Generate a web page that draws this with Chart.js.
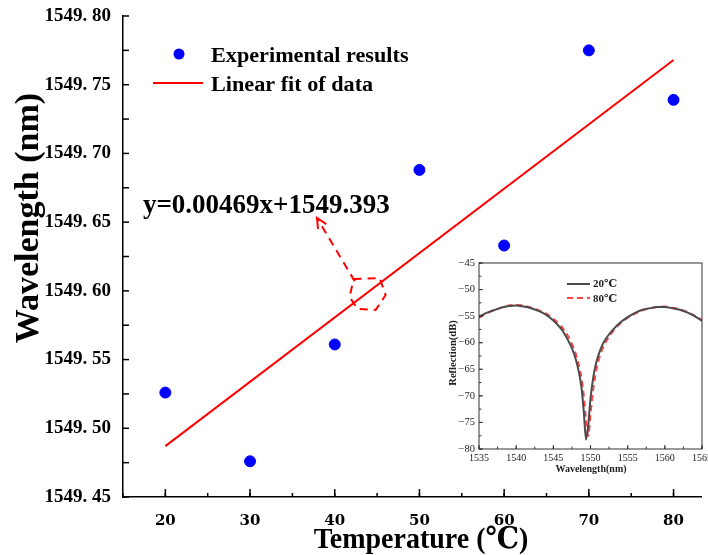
<!DOCTYPE html>
<html lang="en">
<head>
  <meta charset="UTF-8">
  <title>Wavelength vs Temperature</title>
  <script src="https://cdn.jsdelivr.net/npm/chart.js@4"></script>
  <style>
    html, body { margin: 0; padding: 0; background: #fff; }
    #wrap { position: relative; width: 708px; height: 555px; overflow: hidden; }
    #mainChart { position: absolute; left: 0; top: 0; }
    #insetChart { position: absolute; left: 430px; top: 250px; }
  </style>
</head>
<body>
  <div id="wrap">
    <canvas id="mainChart" width="708" height="555"></canvas>
    <canvas id="insetChart" width="278" height="230"></canvas>
  </div>

  <script>
    // ---- main plot: peak wavelength vs temperature
    const temperatures = [20, 30, 40, 50, 60, 70, 80];
    const peakWavelengths = [1549.526, 1549.476, 1549.561, 1549.688, 1549.633, 1549.775, 1549.739];
    const fitTemperatures = [20, 80];
    const fitWavelengths = [1549.487, 1549.768];
    const xTickValues = [20, 30, 40, 50, 60, 70, 80];
    const yTickValues = [1549.45, 1549.50, 1549.55, 1549.60, 1549.65, 1549.70, 1549.75, 1549.80];

    // ---- inset: reflection spectra
    const spectrumWavelengths = [1535, 1536, 1537, 1538, 1539, 1540, 1541, 1542, 1543, 1544, 1545, 1546, 1546.5, 1547, 1547.5, 1548, 1548.4, 1548.8, 1549.1, 1549.4, 1549.7, 1550, 1550.4, 1550.8, 1551.2, 1551.6, 1552, 1553, 1554, 1555, 1556, 1557, 1558, 1559, 1560, 1561, 1562, 1563, 1564, 1565];
    const reflection20 = [-55.1, -54.4, -53.9, -53.4, -53.1, -53.0, -53.2, -53.5, -54.0, -54.7, -55.8, -57.3, -58.3, -59.6, -61.0, -63.0, -65.3, -68.6, -73.0, -78.2, -75.5, -70.5, -66.3, -63.6, -61.8, -60.4, -59.4, -57.6, -56.2, -55.2, -54.4, -53.8, -53.5, -53.3, -53.3, -53.5, -53.8, -54.3, -55.0, -55.9];
    const reflection80 = [-55.3, -54.5, -53.9, -53.4, -53.0, -52.9, -53.0, -53.4, -53.9, -54.5, -55.5, -56.8, -57.7, -58.8, -60.2, -62.0, -64.0, -66.8, -70.0, -74.5, -77.5, -73.5, -68.5, -65.0, -62.8, -61.2, -60.0, -57.9, -56.4, -55.3, -54.5, -53.9, -53.5, -53.3, -53.2, -53.4, -53.7, -54.2, -54.9, -55.7];
    const insetXTickValues = [1535, 1540, 1545, 1550, 1555, 1560, 1565];
    const insetYTickValues = [-80, -75, -70, -65, -60, -55, -50, -45];

    const SERIF = '"Liberation Serif", "Times New Roman", "DejaVu Serif", serif';

    function pairs(xs, ys) {
      return xs.map((x, i) => ({ x: x, y: ys[i] }));
    }

    // draws inward tick marks from min to max every step
    function inwardTicks(ctx, scale, area, step, len, horizontal) {
      const start = Math.ceil(scale.min / step - 1e-6) * step;
      for (let v = start; v <= scale.max + 1e-9; v += step) {
        const p = scale.getPixelForValue(v);
        ctx.beginPath();
        if (horizontal) {
          ctx.moveTo(p, area.bottom);
          ctx.lineTo(p, area.bottom - len);
        } else {
          ctx.moveTo(area.left, p);
          ctx.lineTo(area.left + len, p);
        }
        ctx.stroke();
      }
    }

    function noPadding(s) {
      s.paddingTop = 0;
      s.paddingBottom = 0;
      s.paddingLeft = 0;
      s.paddingRight = 0;
    }

    const mainDecor = {
      id: 'mainDecor',
      afterDraw(chart) {
        const ctx = chart.ctx;
        const area = chart.chartArea;
        const xs = chart.scales.x;
        const ys = chart.scales.y;
        ctx.save();

        // tick marks (inside the axes)
        ctx.strokeStyle = '#000';
        ctx.lineWidth = 1.5;
        inwardTicks(ctx, xs, area, 10, 8, true);
        inwardTicks(ctx, xs, area, 5, 4, true);
        inwardTicks(ctx, ys, area, 0.025, 6, false);

        // legend
        const lx = area.left, ly = area.top;
        ctx.fillStyle = '#0000ff';
        ctx.beginPath();
        ctx.arc(lx + 56, ly + 38, 5.5, 0, Math.PI * 2);
        ctx.fill();
        ctx.strokeStyle = '#ff0000';
        ctx.lineWidth = 2;
        ctx.beginPath();
        ctx.moveTo(lx + 30, ly + 67);
        ctx.lineTo(lx + 80, ly + 67);
        ctx.stroke();
        ctx.fillStyle = '#000';
        ctx.font = 'bold 20px ' + SERIF;
        ctx.textBaseline = 'alphabetic';
        ctx.textAlign = 'left';
        ctx.save();
        ctx.translate(lx + 88, ly + 46);
        ctx.scale(1.11, 1);
        ctx.fillText('Experimental results', 0, 0);
        ctx.restore();
        ctx.save();
        ctx.translate(lx + 88, ly + 75);
        ctx.scale(1.11, 1);
        ctx.fillText('Linear fit of data', 0, 0);
        ctx.restore();

        // fit equation
        ctx.font = 'bold 27px ' + SERIF;
        ctx.fillText('y=0.00469x+1549.393', xs.getPixelForValue(17.35), ys.getPixelForValue(1549.657));

        // dashed arrow from the fit line to the equation
        const tailX = xs.getPixelForValue(42.36), tailY = ys.getPixelForValue(1549.607);
        const tipX = xs.getPixelForValue(37.91), tipY = ys.getPixelForValue(1549.653);
        ctx.strokeStyle = '#ff0000';
        ctx.lineWidth = 2;
        ctx.setLineDash([8, 6]);
        ctx.beginPath();
        ctx.moveTo(tailX, tailY);
        ctx.lineTo(tipX, tipY);
        ctx.stroke();
        const ang = Math.atan2(tipY - tailY, tipX - tailX);
        ctx.setLineDash([]);
        ctx.beginPath();
        ctx.moveTo(tipX - 11 * Math.cos(ang - 0.45), tipY - 11 * Math.sin(ang - 0.45));
        ctx.lineTo(tipX, tipY);
        ctx.lineTo(tipX - 11 * Math.cos(ang + 0.45), tipY - 11 * Math.sin(ang + 0.45));
        ctx.stroke();

        // dashed marker round the fit line
        const cx = xs.getPixelForValue(43.88), cy = ys.getPixelForValue(1549.597);
        const hex = [[-14, -16], [12, -17], [18, 0], [8, 15], [-10, 14], [-18, 2]];
        ctx.setLineDash([8, 6]);
        ctx.beginPath();
        hex.forEach((p, i) => i ? ctx.lineTo(cx + p[0], cy + p[1]) : ctx.moveTo(cx + p[0], cy + p[1]));
        ctx.closePath();
        ctx.stroke();
        ctx.setLineDash([]);

        // axis titles
        ctx.fillStyle = '#000';
        ctx.save();
        ctx.translate(29, 218);
        ctx.rotate(-Math.PI / 2);
        ctx.font = 'bold 34px ' + SERIF;
        ctx.textAlign = 'center';
        ctx.textBaseline = 'middle';
        ctx.fillText('Wavelength (nm)', 0, 0);
        ctx.restore();

        ctx.save();
        ctx.translate(421, 548);
        ctx.scale(1, 1.08);
        ctx.font = 'bold 28px ' + SERIF;
        ctx.textAlign = 'center';
        ctx.textBaseline = 'alphabetic';
        ctx.fillText('Temperature (℃)', 0, 0);
        ctx.restore();

        ctx.restore();
      }
    };

    new Chart(document.getElementById('mainChart'), {
      type: 'scatter',
      data: {
        datasets: [
          {
            label: 'Experimental results',
            data: pairs(temperatures, peakWavelengths),
            backgroundColor: '#0000ff',
            borderColor: '#0000ff',
            pointRadius: 5.5,
            pointHoverRadius: 5.5,
          },
          {
            type: 'line',
            label: 'Linear fit of data',
            data: pairs(fitTemperatures, fitWavelengths),
            borderColor: '#ff0000',
            borderWidth: 2,
            pointRadius: 0,
            fill: false,
          },
        ],
      },
      options: {
        responsive: false,
        animation: false,
        layout: { padding: { top: 16, right: 1, left: 0, bottom: 0 } },
        plugins: { legend: { display: false }, tooltip: { enabled: false } },
        scales: {
          x: {
            type: 'linear',
            min: 15,
            max: 83.3,
            afterBuildTicks: s => { s.ticks = xTickValues.map(v => ({ value: v })); },
            afterFit: s => { s.height = 58; noPadding(s); },
            grid: { display: false, drawTicks: false },
            border: { display: true, color: '#000', width: 1.5 },
            ticks: {
              color: '#000',
              padding: 15,
              maxRotation: 0,
              autoSkip: false,
              callback: v => String(v),
              font: { family: '"DejaVu Serif", serif', size: 15, weight: 'bold' },
            },
          },
          y: {
            min: 1549.45,
            max: 1549.80,
            afterBuildTicks: s => { s.ticks = yTickValues.map(v => ({ value: v })); },
            afterFit: s => { s.width = 123; noPadding(s); },
            grid: { display: false, drawTicks: false },
            border: { display: true, color: '#000', width: 1.5 },
            ticks: {
              color: '#000',
              padding: 12,
              autoSkip: false,
              callback: v => v.toFixed(2).replace('.', '. '),
              font: { family: SERIF, size: 19, weight: 'bold' },
            },
          },
        },
      },
      plugins: [mainDecor],
    });

    const insetDecor = {
      id: 'insetDecor',
      afterDraw(chart) {
        const ctx = chart.ctx;
        const area = chart.chartArea;
        const xs = chart.scales.x;
        const ys = chart.scales.y;
        ctx.save();

        ctx.strokeStyle = '#333';
        ctx.lineWidth = 1;
        ctx.strokeRect(area.left, area.top, area.right - area.left, area.bottom - area.top);
        inwardTicks(ctx, xs, area, 5, 4, true);
        inwardTicks(ctx, xs, area, 2.5, 2.5, true);
        inwardTicks(ctx, ys, area, 5, 4, false);
        inwardTicks(ctx, ys, area, 2.5, 2.5, false);

        // legend
        ctx.lineWidth = 2;
        ctx.strokeStyle = '#4a4a4a';
        ctx.beginPath();
        ctx.moveTo(137, 34);
        ctx.lineTo(160, 34);
        ctx.stroke();
        ctx.strokeStyle = '#ff4444';
        ctx.setLineDash([6, 4]);
        ctx.beginPath();
        ctx.moveTo(137, 48);
        ctx.lineTo(160, 48);
        ctx.stroke();
        ctx.setLineDash([]);
        ctx.fillStyle = '#222';
        ctx.font = 'bold 11px ' + SERIF;
        ctx.textBaseline = 'middle';
        ctx.textAlign = 'left';
        ctx.fillText('20℃', 163, 34);
        ctx.fillText('80℃', 163, 49);

        // axis titles
        ctx.font = 'bold 10px ' + SERIF;
        ctx.textAlign = 'center';
        ctx.fillText('Wavelength(nm)', 161, 219);
        ctx.save();
        ctx.translate(23, 103);
        ctx.rotate(-Math.PI / 2);
        ctx.font = 'bold 10.5px ' + SERIF;
        ctx.fillText('Reflection(dB)', 0, 0);
        ctx.restore();

        ctx.restore();
      }
    };

    new Chart(document.getElementById('insetChart'), {
      type: 'line',
      data: {
        datasets: [
          {
            label: '20℃',
            data: pairs(spectrumWavelengths, reflection20),
            borderColor: '#4a4a4a',
            borderWidth: 2,
            pointRadius: 0,
            cubicInterpolationMode: 'monotone',
          },
          {
            label: '80℃',
            data: pairs(spectrumWavelengths, reflection80),
            borderColor: '#ff4444',
            borderWidth: 2,
            borderDash: [6, 4],
            pointRadius: 0,
            cubicInterpolationMode: 'monotone',
          },
        ],
      },
      options: {
        responsive: false,
        animation: false,
        layout: { padding: { top: 13, right: 6, left: 0, bottom: 0 } },
        plugins: { legend: { display: false }, tooltip: { enabled: false } },
        scales: {
          x: {
            type: 'linear',
            min: 1535,
            max: 1565,
            afterBuildTicks: s => { s.ticks = insetXTickValues.map(v => ({ value: v })); },
            afterFit: s => { s.height = 31; noPadding(s); },
            grid: { display: false, drawTicks: false },
            border: { display: false },
            ticks: {
              color: '#222',
              padding: 3,
              maxRotation: 0,
              autoSkip: false,
              callback: v => String(v),
              font: { family: SERIF, size: 10 },
            },
          },
          y: {
            min: -80,
            max: -45,
            afterBuildTicks: s => { s.ticks = insetYTickValues.map(v => ({ value: v })); },
            afterFit: s => { s.width = 49; noPadding(s); },
            grid: { display: false, drawTicks: false },
            border: { display: false },
            ticks: {
              color: '#222',
              padding: 4,
              autoSkip: false,
              callback: v => '\u2212' + Math.abs(v),
              font: { family: SERIF, size: 10.5 },
            },
          },
        },
      },
      plugins: [insetDecor],
    });
  </script>
</body>
</html>
